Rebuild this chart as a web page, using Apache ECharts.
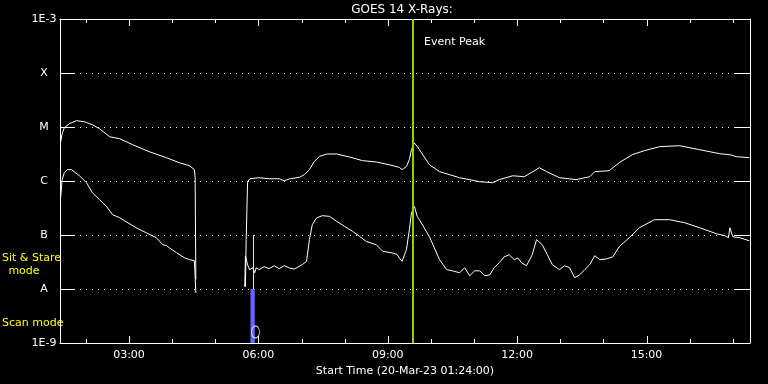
<!DOCTYPE html>
<html><head><meta charset="utf-8">
<script src="https://cdn.jsdelivr.net/npm/echarts@6/dist/echarts.min.js"></script>
<style>html,body{margin:0;padding:0;background:#000}#c{width:768px;height:384px}</style>
</head><body><div id="c"></div>
<script>
const chartTitle = 'GOES 14 X-Rays:';
const xAxisTitle = 'Start Time (20-Mar-23 01:24:00)';
const startTime = '01:24';
const endTime = '17:24';
const majorTickTimes = ['03:00','06:00','09:00','12:00','15:00'];
const minorTickTimes = ['02:00','04:00','05:00','07:00','08:00','10:00','11:00','13:00','14:00','16:00','17:00'];
const yTickValues = [1e-9, 1e-8, 1e-7, 1e-6, 1e-5, 1e-4, 1e-3];
const yTickLabels = ['1E-9','A','B','C','M','X','1E-3'];

const longTimes = ['01:25','01:27','01:30','01:37','01:47','01:58','02:09','02:19','02:33','02:47','03:05','03:28','03:52','04:10','04:24','04:31','04:32','04:33','05:00',
'05:42','05:43','05:45','05:48','06:01','06:15','06:29','06:36','06:43','06:57','07:04','07:11','07:18','07:25','07:35','07:49','08:07','08:25','08:44','09:02','09:16','09:20','09:26','09:30','09:33','09:37','09:41','09:58','10:12','10:26','10:40','11:08','11:26','11:35','11:54','12:10','12:31','12:41','12:59','13:22','13:41','13:48','14:08','14:22','14:40','14:57','15:18','15:46','16:14','16:42','16:56','16:58','17:05','17:23'];
const longFlux = [5.3e-6,7.5e-6,9.7e-6,1.15e-5,1.31e-5,1.25e-5,1.10e-5,9.3e-6,6.6e-6,6.07e-6,4.7e-6,3.5e-6,2.7e-6,2.18e-6,1.92e-6,1.62e-6,1.15e-6,1.5e-8,null,
1.1e-8,8.2e-8,9.7e-7,1.1e-6,1.15e-6,1.1e-6,1.1e-6,1.01e-6,1.09e-6,1.17e-6,1.31e-6,1.62e-6,2.31e-6,2.86e-6,3.16e-6,3.16e-6,2.78e-6,2.38e-6,2.25e-6,2.0e-6,1.79e-6,1.62e-6,1.86e-6,2.48e-6,3.8e-6,5.06e-6,4.37e-6,2.0e-6,1.49e-6,1.31e-6,1.15e-6,9.7e-7,9.3e-7,1.06e-6,1.25e-6,1.2e-6,1.76e-6,1.49e-6,1.15e-6,1.06e-6,1.2e-6,1.49e-6,1.55e-6,2.18e-6,3.07e-6,3.64e-6,4.32e-6,4.5e-6,3.8e-6,3.2e-6,3.07e-6,3.34e-6,2.82e-6,2.7e-6];

const shortTimes = ['01:25','01:27','01:30','01:34','01:40','01:51','02:01','02:09','02:19','02:29','02:37','02:47','02:56','03:10','03:24','03:38','03:47','03:52','03:56','04:06','04:17','04:24','04:31','04:33','05:00',
'05:41','05:42','05:45','05:48','05:52','05:55','05:57','06:01','06:08','06:15','06:22','06:29','06:36','06:43','06:50','07:01','07:07','07:11','07:15','07:21','07:29','07:39','07:49','08:00','08:11','08:21','08:30','08:44','08:53','09:07','09:13','09:16','09:20','09:26','09:30','09:33','09:37','09:41','09:44','09:58','10:12','10:22','10:30','10:40','10:47','10:54','11:01','11:08','11:15','11:22','11:28','11:35','11:42','11:49','11:56','12:01','12:06','12:13','12:21','12:27','12:35','12:42','12:49','12:59','13:06','13:13','13:20','13:27','13:34','13:41','13:48','13:55','14:04','14:13','14:22','14:36','14:50','15:11','15:32','15:53','16:14','16:37','16:49','16:54','16:56','17:00','17:10','17:23'];
const shortFlux = [5.1e-7,1.06e-6,1.43e-6,1.62e-6,1.62e-6,1.25e-6,9.3e-7,6.07e-7,4.5e-7,3.34e-7,2.38e-7,2.09e-7,1.76e-7,1.36e-7,1.1e-7,8.9e-8,6.6e-8,6.4e-8,5.8e-8,4.7e-8,3.8e-8,3.49e-8,3.34e-8,8.5e-9,null,
1.1e-8,4.1e-8,2.8e-8,2.28e-8,2.48e-8,2.0e-8,2.48e-8,2.28e-8,2.59e-8,2.38e-8,2.7e-8,2.38e-8,2.7e-8,2.45e-8,2.34e-8,2.82e-8,3.25e-8,8.2e-8,1.55e-7,2.07e-7,2.28e-7,2.21e-7,1.79e-7,1.44e-7,1.17e-7,9.4e-8,7.6e-8,6.6e-8,5.0e-8,4.64e-8,4.36e-8,3.75e-8,3.25e-8,5.35e-8,1.25e-7,2.55e-7,3.39e-7,2.21e-7,1.92e-7,9.3e-8,3.49e-8,2.28e-8,2.17e-8,2.0e-8,2.48e-8,1.76e-8,2.17e-8,2.17e-8,1.76e-8,1.83e-8,2.48e-8,3.06e-8,3.94e-8,4.3e-8,3.49e-8,3.75e-8,3.06e-8,2.7e-8,4.3e-8,8.2e-8,6.6e-8,4.3e-8,2.82e-8,2.28e-8,2.7e-8,2.48e-8,1.62e-8,1.83e-8,2.28e-8,2.82e-8,4.14e-8,3.49e-8,3.6e-8,3.94e-8,6.07e-8,8.9e-8,1.36e-7,1.92e-7,1.92e-7,1.69e-7,1.36e-7,1.06e-7,9.7e-8,8.9e-8,1.36e-7,9.3e-8,8.9e-8,7.8e-8];

const eventPeakTime = '09:35';
const eventPeakLabel = 'Event Peak';
const scanModeStart = '05:49', scanModeEnd = '05:55';
const scanModeFluxTop = 1e-8;
const sitStareTime = '05:53';
const sitStareFluxRange = [1e-8, 1e-7];
const markerTime = '05:56', markerFlux = 1.6e-9;
const sitStareText = ['Sit & Stare', 'mode'];
const scanModeText = 'Scan mode';

function toMin(s){ const p = s.split(':'); return (+p[0])*60 + (+p[1]); }
function fmt(m){ const h = Math.floor(m/60), mm = m%60; return String(h).padStart(2,'0')+':'+String(mm).padStart(2,'0'); }
const pair = (ts, vs) => ts.map((t,i)=>[toMin(t), vs[i]==null ? '-' : vs[i]]);

const FONT = 'DejaVu Sans';
const W = '#ffffff';
const yMin = yTickValues[0], yMax = yTickValues[yTickValues.length - 1];
const xMin = toMin(startTime), xMax = toMin(endTime);
const majors = majorTickTimes.map(toMin);

function xAx(pos, labels) {
  return {
    type: 'value', position: pos, min: xMin, max: xMax, gridIndex: 0,
    axisLine: { show: true, onZero: false, lineStyle: { color: W, width: 1 } },
    axisTick: { show: false },
    axisLabel: labels ? { show: true, customValues: majors, formatter: v => fmt(v), color: W, fontFamily: FONT, fontSize: 11, margin: 7 } : { show: false },
    splitLine: { show: false },
    name: labels ? xAxisTitle : '', nameLocation: 'middle', nameGap: 20,
    nameTextStyle: { color: W, fontFamily: FONT, fontSize: 11 }
  };
}

const textEls = [
  { type: 'text', style: { text: chartTitle, x: 402, y: 9.5, align: 'center', verticalAlign: 'middle', textAlign: 'center', textVerticalAlign: 'middle', fill: W, font: '12px "DejaVu Sans"' } },
  { type: 'text', style: { text: eventPeakLabel, x: 424, y: 42.5, align: 'left', verticalAlign: 'middle', textAlign: 'left', textVerticalAlign: 'middle', fill: W, font: '11px "DejaVu Sans"' } },
  { type: 'text', style: { text: sitStareText[0], x: 2, y: 258, align: 'left', verticalAlign: 'middle', textAlign: 'left', textVerticalAlign: 'middle', fill: '#ffff00', font: '11px "DejaVu Sans"' } },
  { type: 'text', style: { text: sitStareText[1], x: 24, y: 271, align: 'center', verticalAlign: 'middle', textAlign: 'center', textVerticalAlign: 'middle', fill: '#ffff00', font: '11px "DejaVu Sans"' } },
  { type: 'text', style: { text: scanModeText, x: 2, y: 323, align: 'left', verticalAlign: 'middle', textAlign: 'left', textVerticalAlign: 'middle', fill: '#ffff00', font: '11px "DejaVu Sans"' } }
];

const chart = echarts.init(document.getElementById('c'), null, { renderer: 'canvas' });
chart.setOption({
  backgroundColor: '#000',
  animation: false,
  grid: { left: 60, right: 18, top: 19, bottom: 41 },
  xAxis: [ xAx('bottom', true), xAx('top', false) ],
  yAxis: [
    { type: 'log', logBase: 10, min: yMin, max: yMax, position: 'left',
      axisLine: { show: true, lineStyle: { color: W } },
      axisTick: { show: false },
      axisLabel: { color: W, fontFamily: FONT, fontSize: 11, margin: 16, align: 'center',
        formatter: v => yTickLabels[Math.round(Math.log10(v)) + 9] },
      splitLine: { show: true, lineStyle: { color: W, width: 1, type: [1, 5], dashOffset: -2 } } },
    { type: 'log', logBase: 10, min: yMin, max: yMax, position: 'right',
      axisLine: { show: true, lineStyle: { color: W } },
      axisTick: { show: false },
      axisLabel: { show: false }, splitLine: { show: false } }
  ],
  series: [
    { type: 'line', name: 'long', data: pair(longTimes, longFlux), showSymbol: false, symbol: 'none',
      connectNulls: false, lineStyle: { color: W, width: 1 }, z: 3,
      markArea: { silent: true, itemStyle: { color: '#6464ff' },
        data: [[{ xAxis: toMin(scanModeStart), yAxis: yMin }, { xAxis: toMin(scanModeEnd), yAxis: scanModeFluxTop }]] },
      markLine: { silent: true, symbol: 'none', label: { show: false }, z: 5,
        data: [
          { xAxis: toMin(eventPeakTime), lineStyle: { color: '#9ccc00', width: 2, type: 'solid' } },
          [{ coord: [toMin(sitStareTime), sitStareFluxRange[0]], lineStyle: { color: '#ffff00', width: 1, type: 'solid' } },
           { coord: [toMin(sitStareTime), sitStareFluxRange[1]] }]
        ] } },
    { type: 'line', name: 'short', data: pair(shortTimes, shortFlux), showSymbol: false, symbol: 'none',
      connectNulls: false, lineStyle: { color: W, width: 1 }, z: 3 },
    { type: 'scatter', data: [[toMin(markerTime), markerFlux]], symbol: 'circle', symbolSize: [8, 12],
      itemStyle: { color: 'rgba(0,0,0,0)', borderColor: W, borderWidth: 1 }, z: 4 }
  ],
  graphic: { elements: textEls }
});

// Axis ticks, placed through the chart's own scales
const tickEls = [];
const px = (t) => chart.convertToPixel({ gridIndex: 0 }, [toMin(t), yMax])[0];
const py = (v) => chart.convertToPixel({ gridIndex: 0 }, [xMin, v])[1];
const yTopPx = Math.round(py(yMax)), yBotPx = Math.round(py(yMin));
const xLeftPx = Math.round(px(startTime)), xRightPx = Math.round(px(endTime));
const box = (x, y, w, h) => ({ type: 'rect', silent: true, z: 100,
  shape: { x, y, width: w, height: h }, style: { fill: W } });
function addXTick(t, len) {
  const x = Math.round(px(t));
  tickEls.push(box(x, yBotPx - len, 1, len));
  tickEls.push(box(x, yTopPx, 1, len));
}
majorTickTimes.forEach(t => addXTick(t, 7));
minorTickTimes.forEach(t => addXTick(t, 4));
yTickValues.forEach(v => {
  const y = Math.round(py(v));
  tickEls.push(box(xLeftPx, y, 15, 1));
  tickEls.push(box(xRightPx - 15, y, 15, 1));
});
chart.setOption({ graphic: { elements: textEls.concat(tickEls) } });
</script></body></html>
